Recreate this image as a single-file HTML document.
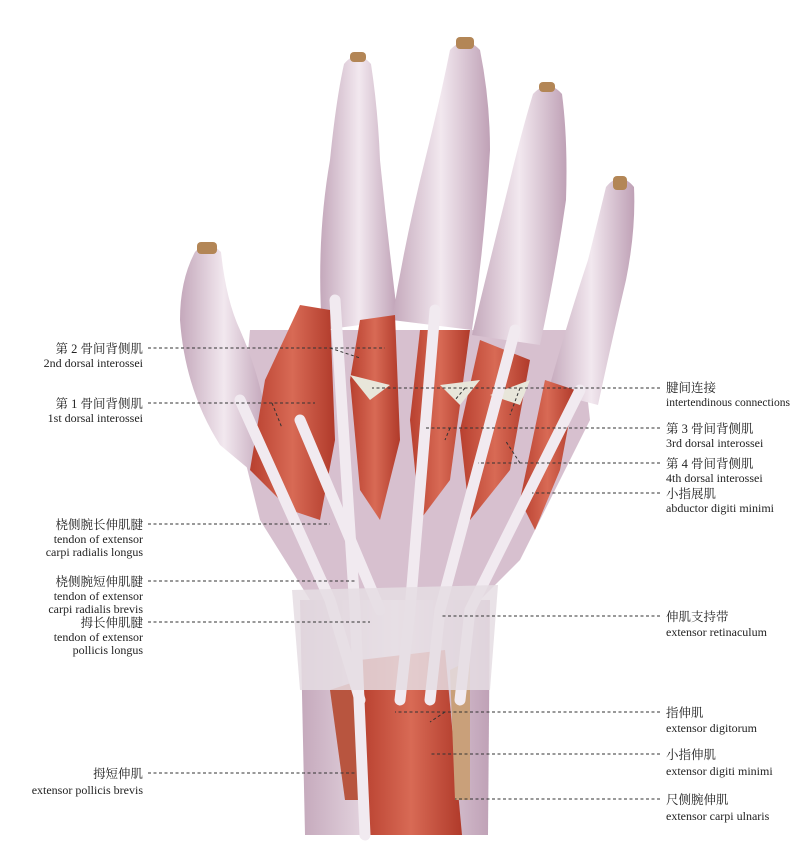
<!DOCTYPE html>
<html><head><meta charset="utf-8"><style>
html,body{margin:0;padding:0;background:#fff;width:811px;height:860px;overflow:hidden}
svg{display:block}
text{font-family:"Liberation Serif","Noto Serif CJK SC",serif;font-size:12px;fill:#222}
.z{font-size:12.5px}
.l{stroke:#333;stroke-width:1;stroke-dasharray:3,2.5;fill:none}
</style></head><body>
<svg width="811" height="860" viewBox="0 0 811 860">
<defs>
<linearGradient id="sk" x1="0" x2="1"><stop offset="0" stop-color="#c4a8bb"/><stop offset=".5" stop-color="#f2e8ef"/><stop offset="1" stop-color="#bfa1b6"/></linearGradient>
<linearGradient id="mu" x1="0" x2="1"><stop offset="0" stop-color="#b8402f"/><stop offset=".5" stop-color="#d86a55"/><stop offset="1" stop-color="#b03a2a"/></linearGradient>
</defs>
<path d="M300 600 L490 600 L488 835 L305 835 Z" fill="url(#sk)"/>
<path d="M360 660 L445 650 L462 835 L362 835 Z" fill="url(#mu)"/>
<path d="M330 690 L360 680 L362 800 L345 800 Z" fill="#b8553f"/>
<path d="M450 670 L470 660 L470 800 L455 800 Z" fill="#c9a07a"/>
<path d="M250 330 L580 330 L590 420 L520 560 L480 600 L310 600 L260 520 L240 440 Z" fill="#d7c0cf"/>
<g fill="url(#sk)">
<path d="M195 252 Q207 238 221 252 Q226 300 240 330 Q262 380 268 430 L250 470 L220 445 Q185 390 180 320 Q180 280 195 252 Z"/>
<path d="M344 64 Q357 48 371 64 Q378 110 380 160 Q388 240 398 320 L322 330 Q316 240 330 160 Q336 100 344 64 Z"/>
<path d="M450 50 Q465 34 480 50 Q490 100 490 150 Q485 240 472 330 L392 320 Q405 240 425 160 Q440 100 450 50 Z"/>
<path d="M533 94 Q548 78 562 94 Q568 140 566 200 Q556 270 540 345 L472 335 Q490 260 510 180 Q522 130 533 94 Z"/>
<path d="M606 187 Q620 170 634 187 Q636 230 626 280 Q612 340 598 405 L548 392 Q568 320 588 260 Q598 220 606 187 Z"/>
</g>
<rect x="197" y="242" width="20" height="12" rx="4" fill="#b38656"/>
<rect x="350" y="52" width="16" height="10" rx="4" fill="#b38656"/>
<rect x="456" y="37" width="18" height="12" rx="4" fill="#b38656"/>
<rect x="539" y="82" width="16" height="10" rx="4" fill="#b38656"/>
<rect x="613" y="176" width="14" height="14" rx="4" fill="#b38656"/>
<path d="M300 305 L330 310 L335 440 L320 520 L290 510 L250 470 L265 380 Z" fill="url(#mu)"/>
<path d="M360 320 L395 315 L400 440 L380 520 L360 490 L350 380 Z" fill="url(#mu)"/>
<path d="M420 330 L470 330 L450 480 L420 520 L410 420 Z" fill="url(#mu)"/>
<path d="M480 340 L530 360 L510 470 L470 520 L460 430 Z" fill="url(#mu)"/>
<path d="M545 380 L575 390 L560 470 L535 530 L520 500 Z" fill="url(#mu)"/>
<path d="M350 375 L390 385 L370 400 Z M440 385 L480 380 L460 405 Z M490 395 L530 380 L520 405 Z" fill="#e8e6da"/>
<g stroke="#f1eaf0" stroke-linecap="round" fill="none" stroke-width="11">
<path d="M335 300 L355 610 L365 835"/>
<path d="M435 310 L410 610 L400 700"/>
<path d="M515 330 L440 610 L430 700"/>
<path d="M580 390 L470 610 L460 700"/>
<path d="M240 400 L330 600 L360 700"/>
<path d="M300 420 L380 610"/>
</g>
<path d="M292 590 L498 585 L490 690 L300 690 Z" fill="#e5dde3" opacity=".85"/>
<g class="l">
<path d="M148 348 H385 M330 348 L360 358"/>
<path d="M148 403 H315 M272 403 L282 428"/>
<path d="M148 524 H330"/>
<path d="M148 581 H355"/>
<path d="M148 622 H370"/>
<path d="M148 773 H355"/>
<path d="M660 388 H372 M465 388 L455 400 M520 388 L510 415"/>
<path d="M660 428 H425 M450 428 L445 440"/>
<path d="M660 463 H478 M520 463 L505 440"/>
<path d="M660 493 H532"/>
<path d="M660 616 H440"/>
<path d="M660 712 H395 M445 712 L430 722"/>
<path d="M660 754 H430"/>
<path d="M660 799 H455"/>
</g>
<g text-anchor="end">
<text x="143" y="353" class="z">第 2 骨间背侧肌</text><text x="143" y="367">2nd dorsal interossei</text>
<text x="143" y="408" class="z">第 1 骨间背侧肌</text><text x="143" y="422">1st dorsal interossei</text>
<text x="143" y="529" class="z">桡侧腕长伸肌腱</text><text x="143" y="543">tendon of extensor</text><text x="143" y="556">carpi radialis longus</text>
<text x="143" y="586" class="z">桡侧腕短伸肌腱</text><text x="143" y="600">tendon of extensor</text><text x="143" y="613">carpi radialis brevis</text>
<text x="143" y="627" class="z">拇长伸肌腱</text><text x="143" y="641">tendon of extensor</text><text x="143" y="654">pollicis longus</text>
<text x="143" y="778" class="z">拇短伸肌</text><text x="143" y="794">extensor pollicis brevis</text>
</g>
<g>
<text x="666" y="392" class="z">腱间连接</text><text x="666" y="406" textLength="124" lengthAdjust="spacingAndGlyphs">intertendinous connections</text>
<text x="666" y="433" class="z">第 3 骨间背侧肌</text><text x="666" y="447">3rd dorsal interossei</text>
<text x="666" y="468" class="z">第 4 骨间背侧肌</text><text x="666" y="482">4th dorsal interossei</text>
<text x="666" y="498" class="z">小指展肌</text><text x="666" y="512">abductor digiti minimi</text>
<text x="666" y="621" class="z">伸肌支持带</text><text x="666" y="636">extensor retinaculum</text>
<text x="666" y="717" class="z">指伸肌</text><text x="666" y="732">extensor digitorum</text>
<text x="666" y="759" class="z">小指伸肌</text><text x="666" y="775">extensor digiti minimi</text>
<text x="666" y="804" class="z">尺侧腕伸肌</text><text x="666" y="820">extensor carpi ulnaris</text>
</g>
</svg>
</body></html>
